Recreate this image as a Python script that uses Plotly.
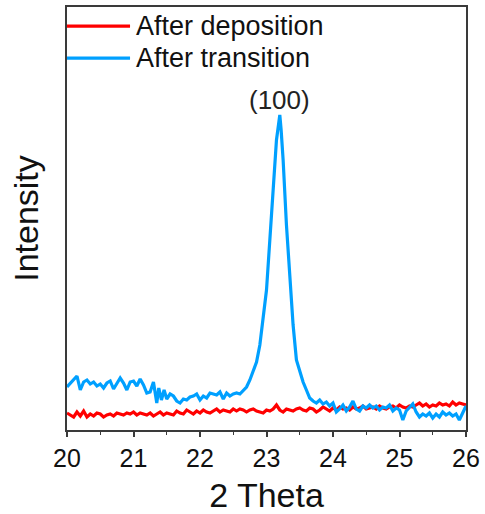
import plotly.graph_objects as go

# 2-theta scan positions (degrees) and intensities (a.u.)
theta_transition = [
    20.00, 20.05, 20.10, 20.15, 20.20, 20.25, 20.30, 20.35, 20.40, 20.45,
    20.50, 20.55, 20.60, 20.65, 20.70, 20.75, 20.80, 20.85, 20.90, 20.95,
    21.00, 21.05, 21.10, 21.15, 21.20, 21.25, 21.30, 21.35, 21.38, 21.42,
    21.46, 21.50, 21.55, 21.60, 21.65, 21.70, 21.75, 21.80, 21.85, 21.90,
    21.95, 22.00, 22.05, 22.10, 22.15, 22.20, 22.25, 22.30, 22.35, 22.40,
    22.45, 22.50, 22.55, 22.60, 22.65, 22.70, 22.75, 22.80, 22.85, 22.90,
    22.95, 23.00, 23.05, 23.10, 23.15, 23.18, 23.20, 23.22, 23.25, 23.30,
    23.35, 23.40, 23.45, 23.50, 23.55, 23.60, 23.65, 23.70, 23.75, 23.80,
    23.85, 23.90, 23.95, 24.00, 24.05, 24.10, 24.15, 24.20, 24.25, 24.30,
    24.35, 24.40, 24.45, 24.50, 24.55, 24.60, 24.65, 24.70, 24.75, 24.80,
    24.85, 24.90, 24.95, 25.00, 25.05, 25.10, 25.15, 25.20, 25.25, 25.30,
    25.35, 25.40, 25.45, 25.50, 25.55, 25.60, 25.65, 25.70, 25.75, 25.80,
    25.85, 25.90, 25.95, 26.00,
]
intensity_transition = [
    43, 47, 50, 54, 40, 48, 50, 46, 48, 44,
    46, 42, 47, 49, 41, 46, 52, 47, 40, 48,
    49, 44, 51, 45, 37, 38, 48, 27, 42, 30,
    40, 31, 36, 34, 29, 27, 31, 30, 33, 34,
    36, 30, 34, 32, 37, 36, 35, 38, 31, 37,
    34, 36, 37, 36, 40, 43, 50, 58, 68, 85,
    112, 140, 190, 245, 290, 305, 315, 300, 270, 205,
    150, 105, 70, 58, 48, 40, 32, 29, 27, 30,
    26, 28, 24, 27, 18, 21, 25, 19, 23, 29,
    21, 19, 24, 22, 25, 22, 24, 20, 23, 22,
    25, 19, 22, 20, 10, 19, 23, 26, 18, 13,
    16, 14, 17, 12, 16, 13, 18, 15, 17, 14,
    16, 10, 17, 24,
]

theta_deposition = [
    20.00, 20.05, 20.10, 20.15, 20.20, 20.25, 20.30, 20.35, 20.40, 20.45,
    20.50, 20.55, 20.60, 20.65, 20.70, 20.75, 20.80, 20.85, 20.90, 20.95,
    21.00, 21.05, 21.10, 21.15, 21.20, 21.25, 21.30, 21.35, 21.40, 21.45,
    21.50, 21.55, 21.60, 21.65, 21.70, 21.75, 21.80, 21.85, 21.90, 21.95,
    22.00, 22.05, 22.10, 22.15, 22.20, 22.25, 22.30, 22.35, 22.40, 22.45,
    22.50, 22.55, 22.60, 22.65, 22.70, 22.75, 22.80, 22.85, 22.90, 22.95,
    23.00, 23.05, 23.10, 23.15, 23.20, 23.25, 23.30, 23.35, 23.40, 23.45,
    23.50, 23.55, 23.60, 23.65, 23.70, 23.75, 23.80, 23.85, 23.90, 23.95,
    24.00, 24.05, 24.10, 24.15, 24.20, 24.25, 24.30, 24.35, 24.40, 24.45,
    24.50, 24.55, 24.60, 24.65, 24.70, 24.75, 24.80, 24.85, 24.90, 24.95,
    25.00, 25.05, 25.10, 25.15, 25.20, 25.25, 25.30, 25.35, 25.40, 25.45,
    25.50, 25.55, 25.60, 25.65, 25.70, 25.75, 25.80, 25.85, 25.90, 25.95,
    26.00,
]
intensity_deposition = [
    17, 15, 13, 18, 14, 19, 13, 16, 14, 17,
    16, 13, 15, 16, 14, 17, 16, 15, 17, 16,
    18, 15, 17, 16, 15, 17, 14, 16, 18, 15,
    17, 16, 15, 19, 17, 16, 20, 18, 16, 19,
    17, 20, 18, 17, 19, 21, 18, 20, 19, 18,
    21, 19, 21, 20, 18, 20, 21, 19, 18, 17,
    20, 19, 21, 25, 20, 18, 21, 20, 19, 21,
    22, 20, 19, 22, 21, 18, 20, 23, 21, 19,
    22, 20, 23, 21, 22, 20, 23, 21, 22, 24,
    21, 22, 23, 21, 24, 22, 21, 23, 24, 22,
    25, 23, 22, 24, 23, 25, 27, 24, 26, 23,
    25, 24, 27, 25, 26, 24, 28, 25, 27, 26,
    25,
]

series_names = ["After deposition", "After transition"]
series_colors = ["#ff0000", "#00a0ff"]
peak_label = "(100)"
peak_theta = 23.19
x_ticks = [20, 21, 22, 23, 24, 25, 26]

FONT = "Arial, Liberation Sans, sans-serif"
AXIS_COLOR = "#3a3a3a"

fig = go.Figure()
fig.add_trace(go.Scatter(
    x=theta_deposition, y=intensity_deposition, mode="lines",
    name=series_names[0], line=dict(color=series_colors[0], width=3.2),
    showlegend=False,
))
fig.add_trace(go.Scatter(
    x=theta_transition, y=intensity_transition, mode="lines",
    name=series_names[1], line=dict(color=series_colors[1], width=3.2),
    showlegend=False,
))

# Legend drawn as line samples with labels in the upper-left corner
legend_y = [0.955, 0.879]
for name, color, ly in zip(series_names, series_colors, legend_y):
    fig.add_shape(type="line", xref="paper", yref="paper",
                  x0=0.0, x1=0.158, y0=ly, y1=ly,
                  line=dict(color=color, width=3.2))
    fig.add_annotation(xref="paper", yref="paper", x=0.168, y=ly,
                       text=name, showarrow=False, xanchor="left",
                       yanchor="middle",
                       font=dict(family=FONT, size=27, color="#111111"))

fig.add_annotation(x=peak_theta, y=max(intensity_transition) + 15,
                   text=peak_label, showarrow=False, xanchor="center",
                   yanchor="middle",
                   font=dict(family=FONT, size=26, color="#222222"))

fig.update_xaxes(
    range=[20, 26], tickvals=x_ticks, ticktext=[str(t) for t in x_ticks],
    ticks="outside", ticklen=5, tickwidth=1.5, tickcolor=AXIS_COLOR,
    minor=dict(dtick=0.5, ticks="outside", ticklen=3, tickwidth=1.2,
               tickcolor=AXIS_COLOR, showgrid=False),
    showline=True, linecolor=AXIS_COLOR, linewidth=1.5, mirror=True,
    showgrid=False, zeroline=False,
    tickfont=dict(family=FONT, size=25, color="#111111"),
    title=dict(text="2 Theta", font=dict(family=FONT, size=34, color="#111111"),
               standoff=18),
)
fig.update_yaxes(
    range=[0, 423], showticklabels=False, ticks="",
    showline=True, linecolor=AXIS_COLOR, linewidth=1.5, mirror=True,
    showgrid=False, zeroline=False,
    title=dict(text="Intensity", font=dict(family=FONT, size=34, color="#111111"),
               standoff=16),
)

fig.update_layout(
    width=485, height=514,
    margin=dict(l=67, r=19, t=7, b=84, autoexpand=False),
    paper_bgcolor="white", plot_bgcolor="white",
    showlegend=False,
)

fig.write_html("out.html")
